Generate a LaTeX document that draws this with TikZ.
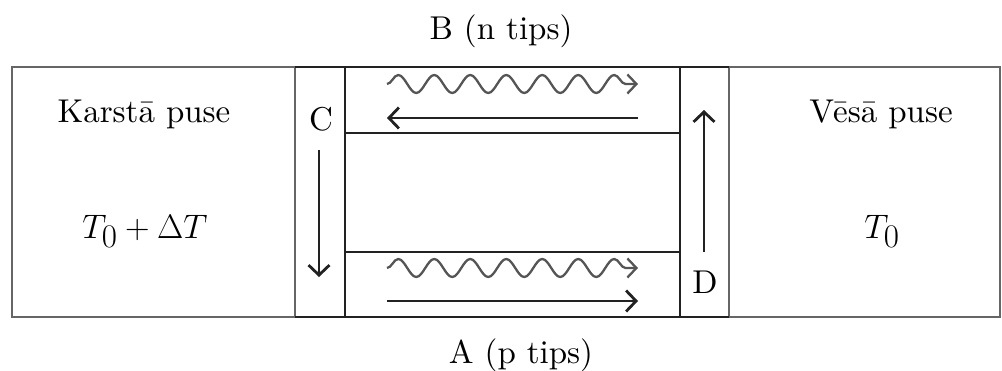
\RequirePackage{fix-cm}
\documentclass[tikz,border=0pt]{standalone}
\usepackage{fontspec}
\setmainfont{lmroman10-regular.otf}
\DeclareMathSizes{34}{34}{33}{25}
\usetikzlibrary{arrows.meta,decorations.pathmorphing}
\definecolor{frame}{HTML}{666666}
\definecolor{ink}{HTML}{222222}
\definecolor{wavecol}{HTML}{555555}
\tikzset{
  lbl/.style={inner sep=0pt, anchor=base, font=\fontsize{33}{40}\selectfont, text=black},
  mlbl/.style={inner sep=0pt, anchor=base, font=\fontsize{34}{41}\selectfont, text=black},
  sidebox/.style={draw=frame, line width=2.5pt},
  core/.style={draw=ink, line width=2.5pt},
  flow/.style={draw=ink, line width=2.8pt, -{Straight Barb[length=10pt,width=21pt]}},
  heat/.style={draw=wavecol, line width=2.3pt, decorate,
    decoration={snake, amplitude=9pt, segment length=36pt, post length=6pt},
    -{Straight Barb[length=9pt,width=19pt]}},
}
\begin{document}
\begin{tikzpicture}[x=1pt,y=-1pt]
\useasboundingbox (0,0) rectangle (1002,370);
% side boxes (grey frame)
\draw[sidebox] (12,67) rectangle (295,317);
\draw[sidebox] (729,67) rectangle (1000,317);
% central structure
\draw[core] (295,67) -- (729,67);
\draw[core] (295,317) -- (729,317);
\draw[core] (345,67) -- (345,317);
\draw[core] (680,67) -- (680,317);
\draw[core] (345,133) -- (680,133);
\draw[core] (345,252) -- (680,252);
% labels
\node[lbl] (hot) at (144,122) {Karstā puse};
\node[lbl] (cold) at (881,122) {Vēsā puse};
\node[mlbl] (hotT) at (145,238) {$T_0+\Delta T$};
\node[mlbl] (coldT) at (882,238) {$T_0$};
\node[lbl] (C) at (321,130) {C};
\node[lbl] (D) at (705,293) {D};
\node[lbl] (B) at (501,39) {B (n tips)};
\node[lbl] (A) at (521,363) {A (p tips)};
% arrow end points
\coordinate (bw1) at (387,84);
\coordinate (bw2) at (638,84);
\coordinate (ba1) at (638,118);
\coordinate (ba2) at (387,118);
\coordinate (aw1) at (387,268);
\coordinate (aw2) at (638,268);
\coordinate (aa1) at (387,301);
\coordinate (aa2) at (638,301);
\coordinate (c1) at (319,150);
\coordinate (c2) at (319,277);
\coordinate (d1) at (704,252);
\coordinate (d2) at (704,110);
% arrows
\draw[heat] (bw1) -- (bw2);
\draw[flow] (ba1) -- (ba2);
\draw[heat] (aw1) -- (aw2);
\draw[flow] (aa1) -- (aa2);
\draw[flow] (c1) -- (c2);
\draw[flow] (d1) -- (d2);
\end{tikzpicture}
\end{document}
